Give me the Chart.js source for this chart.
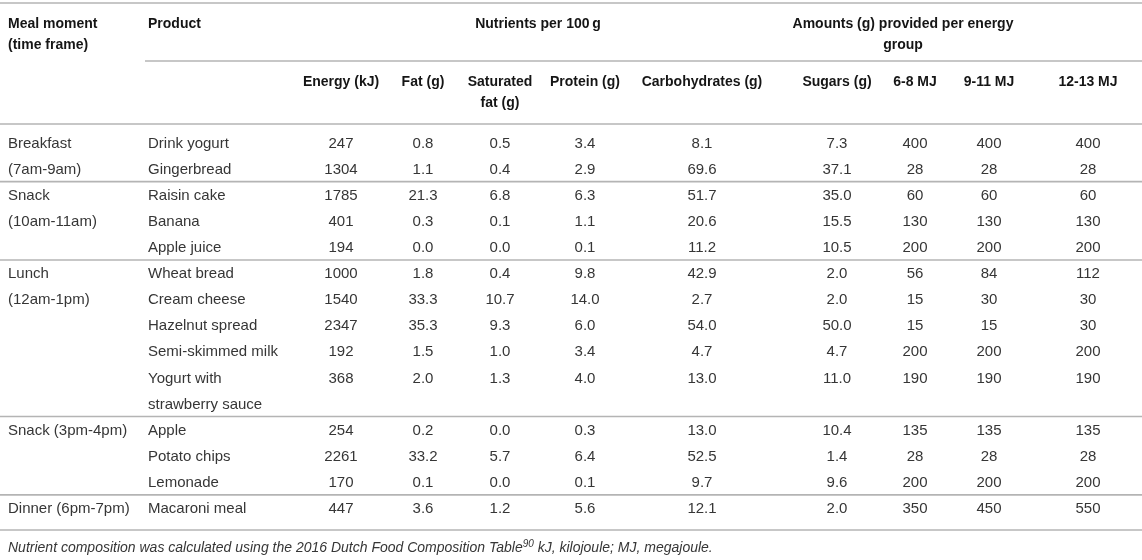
<!DOCTYPE html>
<html>
<head>
<meta charset="utf-8">
<title>Meal plan – nutrients per product</title>
<script src="https://cdn.jsdelivr.net/npm/chart.js@4.4.1/dist/chart.umd.min.js"></script>
<style>
  html, body { margin: 0; padding: 0; background: #fff; }
  #wrap { width: 1142px; height: 560px; }
</style>
</head>
<body>
<div id="wrap"><canvas id="table" width="1142" height="560"></canvas></div>
<script>
// ---- table data ----
const topHeads = ['Meal moment\n(time frame)', 'Product', 'Nutrients per 100\u2009g', 'Amounts (g) provided per energy\ngroup'];
const columnHeads = ['Energy (kJ)', 'Fat (g)', 'Saturated\nfat (g)', 'Protein (g)', 'Carbohydrates (g)',
                     'Sugars (g)', '6-8 MJ', '9-11 MJ', '12-13 MJ'];

const mealMoments = ['Breakfast\n(7am-9am)', 'Snack\n(10am-11am)', 'Lunch\n(12am-1pm)', 'Snack (3pm-4pm)', 'Dinner (6pm-7pm)'];
const productsPerMeal = [2, 3, 5, 3, 1];
const products = ['Drink yogurt', 'Gingerbread', 'Raisin cake', 'Banana', 'Apple juice', 'Wheat bread',
                  'Cream cheese', 'Hazelnut spread', 'Semi-skimmed milk', 'Yogurt with\nstrawberry sauce',
                  'Apple', 'Potato chips', 'Lemonade', 'Macaroni meal'];

const energy  = [247, 1304, 1785, 401, 194, 1000, 1540, 2347, 192, 368, 254, 2261, 170, 447];
const fat     = [0.8, 1.1, 21.3, 0.3, 0.0, 1.8, 33.3, 35.3, 1.5, 2.0, 0.2, 33.2, 0.1, 3.6];
const satFat  = [0.5, 0.4, 6.8, 0.1, 0.0, 0.4, 10.7, 9.3, 1.0, 1.3, 0.0, 5.7, 0.0, 1.2];
const protein = [3.4, 2.9, 6.3, 1.1, 0.1, 9.8, 14.0, 6.0, 3.4, 4.0, 0.3, 6.4, 0.1, 5.6];
const carbs   = [8.1, 69.6, 51.7, 20.6, 11.2, 42.9, 2.7, 54.0, 4.7, 13.0, 13.0, 52.5, 9.7, 12.1];
const sugars  = [7.3, 37.1, 35.0, 15.5, 10.5, 2.0, 2.0, 50.0, 4.7, 11.0, 10.4, 1.4, 9.6, 2.0];
const mj6to8  = [400, 28, 60, 130, 200, 56, 15, 15, 200, 190, 135, 28, 200, 350];
const mj9to11 = [400, 28, 60, 130, 200, 84, 30, 15, 200, 190, 135, 28, 200, 450];
const mj12to13 = [400, 28, 60, 130, 200, 112, 30, 30, 200, 190, 135, 28, 200, 550];

const footnote = [
  { text: 'Nutrient composition was calculated using the 2016 Dutch Food Composition Table' },
  { text: '90', sup: true },
  { text: ' kJ, kilojoule; MJ, megajoule.' }
];

// ---- layout ----
const W = 1142, H = 560;
const ROW0 = 143.5, ROW_H = 26.1;
const HEAD_Y1 = 24, HEAD_Y2 = 82, HEAD_LH = 21;
const MEAL_X = 8, PRODUCT_X = 148;
const colX = [341, 423, 500, 585, 702, 837, 915, 989, 1088];
const topHeadX = [MEAL_X, PRODUCT_X, 538, 903];

const FONT = '"Liberation Sans", Arial, Helvetica, sans-serif';
const BODY = '15px ' + FONT, BOLD = 'bold 14px ' + FONT, NOTE = 'italic 14px ' + FONT;
const INK = '#363636', HEAD_INK = '#151515', RULE = '#b4b4b4';

const rowY = r => ROW0 + r * ROW_H;

// rows used by each meal / product (wrapped products take more rows)
const mealRow = [], productRow = [], separators = [];
let row = 0, p = 0;
productsPerMeal.forEach((n, m) => {
  mealRow.push(row);
  for (let k = 0; k < n; k++, p++) {
    productRow.push(row);
    row += products[p].split('\n').length;
  }
  if (m < productsPerMeal.length - 1) separators.push(rowY(row - 0.5) - 1);
});

function textSet(points, texts, font, color, align, lineHeight) {
  return {
    type: 'scatter', data: points, texts, font, color, align, lineHeight,
    pointRadius: 0, pointHoverRadius: 0, clip: false
  };
}

function rule(x0, x1, y) {
  return {
    type: 'line', data: [{ x: x0, y }, { x: x1, y }],
    borderColor: RULE, borderWidth: 1.6, pointRadius: 0, fill: false, clip: false
  };
}

const valueCols = [
  energy.map(v => v.toString()),
  fat.map(v => v.toFixed(1)),
  satFat.map(v => v.toFixed(1)),
  protein.map(v => v.toFixed(1)),
  carbs.map(v => v.toFixed(1)),
  sugars.map(v => v.toFixed(1)),
  mj6to8.map(v => v.toString()),
  mj9to11.map(v => v.toString()),
  mj12to13.map(v => v.toString())
];

const datasets = [
  rule(0, W, 3),
  rule(PRODUCT_X - 3, W, 61),
  rule(0, W, 124),
  ...separators.map(y => rule(0, W, y)),
  rule(0, W, 530),

  textSet(topHeads.slice(0, 2).map((t, i) => ({ x: topHeadX[i], y: HEAD_Y1 })),
          topHeads.slice(0, 2), BOLD, HEAD_INK, 'left', HEAD_LH),
  textSet(topHeads.slice(2).map((t, i) => ({ x: topHeadX[i + 2], y: HEAD_Y1 })),
          topHeads.slice(2), BOLD, HEAD_INK, 'center', HEAD_LH),
  textSet(columnHeads.map((t, i) => ({ x: colX[i], y: HEAD_Y2 })),
          columnHeads, BOLD, HEAD_INK, 'center', HEAD_LH),

  textSet(mealMoments.map((t, i) => ({ x: MEAL_X, y: rowY(mealRow[i]) })),
          mealMoments, BODY, INK, 'left', ROW_H),
  textSet(products.map((t, i) => ({ x: PRODUCT_X, y: rowY(productRow[i]) })),
          products, BODY, INK, 'left', ROW_H),
  ...valueCols.map((vals, c) =>
    textSet(vals.map((v, i) => ({ x: colX[c], y: rowY(productRow[i]) })),
            vals, BODY, INK, 'center', ROW_H)),

  textSet([{ x: MEAL_X, y: 548 }], [footnote], NOTE, INK, 'left', 0)
];

// draws the cell texts at the positions the scales give each point
const cellText = {
  id: 'cellText',
  afterDatasetsDraw(chart) {
    const ctx = chart.ctx;
    chart.data.datasets.forEach((ds, i) => {
      if (!ds.texts) return;
      const meta = chart.getDatasetMeta(i);
      ctx.save();
      ctx.fillStyle = ds.color;
      ctx.textBaseline = 'middle';
      meta.data.forEach((pt, j) => {
        const t = ds.texts[j];
        if (Array.isArray(t)) {
          // run of segments, some raised as superscript
          let x = pt.x;
          ctx.textAlign = 'left';
          t.forEach(seg => {
            ctx.font = seg.sup ? ds.font.replace('14px', '10px') : ds.font;
            ctx.fillText(seg.text, x, seg.sup ? pt.y - 4 : pt.y);
            x += ctx.measureText(seg.text).width;
          });
          return;
        }
        ctx.font = ds.font;
        ctx.textAlign = ds.align;
        t.split('\n').forEach((line, k) => ctx.fillText(line, pt.x, pt.y + k * ds.lineHeight));
      });
      ctx.restore();
    });
  }
};

new Chart(document.getElementById('table'), {
  data: { datasets },
  options: {
    responsive: false,
    animation: false,
    events: [],
    layout: { padding: 0 },
    scales: {
      x: { type: 'linear', min: 0, max: W, display: false },
      y: { type: 'linear', min: 0, max: H, reverse: true, display: false }
    },
    plugins: { legend: { display: false }, tooltip: { enabled: false } }
  },
  plugins: [cellText]
});
</script>
</body>
</html>
